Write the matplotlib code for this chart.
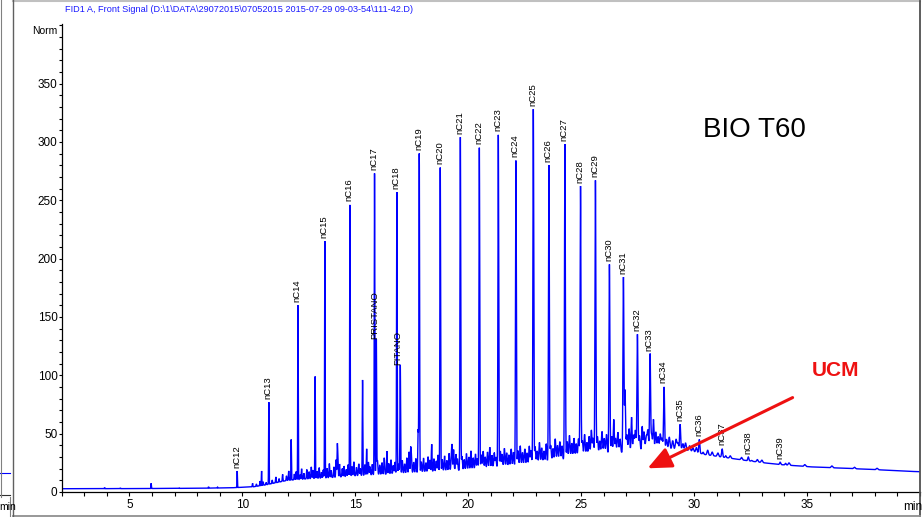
import numpy as np
import matplotlib
matplotlib.use('Agg')
import matplotlib.pyplot as plt
from matplotlib.lines import Line2D
from matplotlib.ticker import MultipleLocator

NARROW = ['Liberation Sans Narrow', 'Liberation Sans', 'DejaVu Sans']

# ---------------- data ----------------
alkane_labels = ['nC12', 'nC13', 'nC14', 'nC15', 'nC16', 'nC17', 'nC18', 'nC19', 'nC20',
                 'nC21', 'nC22', 'nC23', 'nC24', 'nC25', 'nC26', 'nC27', 'nC28', 'nC29',
                 'nC30', 'nC31', 'nC32', 'nC33', 'nC34', 'nC35', 'nC36', 'nC37', 'nC38', 'nC39']
alkane_times = [9.77, 11.17, 12.46, 13.65, 14.76, 15.85, 16.84, 17.83, 18.76,
                19.65, 20.49, 21.33, 22.11, 22.88, 23.57, 24.28, 24.97, 25.63,
                26.25, 26.87, 27.49, 28.05, 28.67, 29.38, 30.23, 31.24, 32.40, 33.81]
alkane_heights = [18, 77, 160, 215, 246, 273, 257, 290, 278,
                  304, 295, 306, 284, 328, 280, 298, 262, 267,
                  195, 184, 135, 118, 90, 58, 45, 37, 30, 25.5]

iso_labels = ['PRISTANO', 'FITANO']
iso_times = [15.93, 16.99]
iso_heights = [131, 109]

other_times = [3.9, 4.6, 5.96, 7.2, 8.5, 8.9, 10.85, 12.16, 13.22, 14.2, 15.32, 15.5,
               16.4, 17.45, 17.78, 18.38, 19.28, 26.44, 26.94, 27.23, 27.7, 28.2,
               30.4, 31.4, 32.55, 34.05]
other_heights = [3.8, 3.5, 7.5, 3.5, 4.5, 4.2, 18, 45, 99, 32, 96, 37,
                 35, 34, 53, 41, 37, 62, 87, 64, 56, 62,
                 34, 31, 27, 24.5]

# unresolved complex mixture (lower envelope of the trace)
ucm_times = [2, 5, 8, 9.5, 10.5, 11, 11.5, 12, 13, 14, 15, 16, 17, 18, 19, 20, 21, 22,
             23, 24, 25, 26, 27, 28, 28.8, 29.3, 29.8, 30.5, 31.4, 32.3, 33.1, 33.8,
             35.2, 36.7, 38.2, 39.5, 40]
ucm_levels = [2.8, 2.9, 3.2, 3.6, 4.5, 6, 8, 10, 11.5, 12.5, 14, 15, 16, 17, 18, 19, 20.5, 22,
              24, 27, 30, 32, 34, 36, 37, 37, 35.5, 32, 29.5, 27, 25, 23.5,
              21.5, 20.3, 19, 17.7, 17.4]

# small unresolved peaks ("grass") above the envelope
grass_times = [10.45, 10.62, 10.78, 10.92, 11.05, 11.32, 11.48, 11.62, 11.78, 11.95, 12.05,
               12.3, 12.38, 12.55, 12.62, 12.72, 12.85, 12.95, 13.05, 13.12, 13.3, 13.4, 13.5,
               13.58, 13.75, 13.85, 13.93, 14.05, 14.15, 14.22, 14.3, 14.42, 14.5, 14.6, 14.68,
               14.85, 14.93, 15.05, 15.15, 15.22,
               15.42, 15.58, 15.65, 15.75, 15.98, 16.08, 16.18, 16.28, 16.48, 16.58, 16.68,
               16.75, 16.92, 17.08, 17.18, 17.28, 17.38, 17.48, 17.58, 17.68, 17.92, 18.02,
               18.12, 18.22, 18.3, 18.48, 18.58, 18.66,
               18.85, 18.95, 19.05, 19.15, 19.25, 19.35, 19.45, 19.52, 19.72, 19.82, 19.92,
               20.02, 20.12, 20.22, 20.32, 20.4, 20.58, 20.66, 20.75, 20.85, 20.95, 21.05,
               21.15, 21.22, 21.42, 21.5, 21.6, 21.7, 21.8, 21.9, 22.0,
               22.2, 22.3, 22.4, 22.5, 22.6, 22.7, 22.78, 22.96, 23.05, 23.15, 23.25, 23.35,
               23.45, 23.65, 23.75, 23.85, 23.95, 24.05, 24.15, 24.38, 24.48, 24.58, 24.68,
               24.78, 24.88,
               25.05, 25.15, 25.25, 25.35, 25.45, 25.53, 25.72, 25.82, 25.92, 26.02, 26.12,
               26.35, 26.52, 26.62, 26.72, 27.02, 27.12, 27.32, 27.4, 27.58, 27.78, 27.88,
               27.95, 28.12, 28.3, 28.4, 28.5, 28.58, 28.78, 28.9, 29.05, 29.2, 29.28, 29.5,
               29.62, 29.8, 29.95, 30.1, 30.6, 30.8, 31.05, 31.6, 32.1, 32.8, 33.0, 34.2,
               34.9, 36.1, 37.1, 38.1]
grass_heights = [3, 2, 4, 3, 2, 3, 5, 3, 6, 4, 8,
                 5, 7, 4, 9, 5, 8, 6, 10, 7, 6, 9, 5,
                 7, 8, 12, 6, 9, 15, 18, 11, 7, 9, 6, 10,
                 8, 12, 7, 10, 6,
                 9, 11, 7, 9, 12, 8, 10, 14, 9, 12, 7,
                 10, 8, 11, 8, 13, 18, 15, 9, 12, 9, 12,
                 8, 13, 10, 11, 9, 14,
                 10, 13, 9, 15, 11, 18, 14, 10, 12, 9, 14,
                 11, 16, 10, 13, 9, 12, 15, 10, 14, 18, 11,
                 13, 9, 14, 11, 16, 12, 10, 15, 12,
                 13, 17, 11, 14, 10, 16, 12, 15, 11, 18, 13, 10,
                 16, 14, 11, 19, 13, 16, 12, 15, 20, 13, 17,
                 12, 16,
                 14, 19, 12, 17, 22, 15, 16, 12, 20, 14, 17,
                 15, 13, 18, 12, 15, 20, 14, 18, 13, 16, 12,
                 17, 13, 15, 11, 13, 9, 8, 10, 7, 8, 5, 5,
                 6, 4, 3, 4, 4, 3, 3, 2, 2, 2, 2, 2,
                 1.5, 1.5, 1.2, 1.2]

x_major = [5, 10, 15, 20, 25, 30, 35]
y_major = [0, 50, 100, 150, 200, 250, 300, 350]
title_text = r'FID1 A, Front Signal (D:\1\DATA\29072015\07052015 2015-07-29 09-03-54\111-42.D)'

# ---------------- figure ----------------
W, H = 922, 517
fig = plt.figure(figsize=(W / 100, H / 100), dpi=100)
fig.patch.set_facecolor('white')
ax = fig.add_axes([61.7 / W, 25 / H, (920 - 61.7) / W, 468 / H])

t = np.arange(2.0, 40.0005, 0.002)
base = np.interp(t, ucm_times, ucm_levels)
signal = base.copy()


def width(tc):
    return 0.009 + 0.0007 * max(tc - 10.0, 0.0)


for tc, h in zip(alkane_times + iso_times + other_times,
                 alkane_heights + iso_heights + other_heights):
    amp = h - np.interp(tc, ucm_times, ucm_levels)
    signal += amp * np.exp(-0.5 * ((t - tc) / width(tc)) ** 2)

for tc, a in zip(grass_times, grass_heights):
    s = width(tc) * 1.3
    signal += a * np.exp(-0.5 * ((t - tc) / s) ** 2)

ax.plot(t, signal, color='#0000ff', lw=1.0, solid_joinstyle='miter')

ax.set_xlim(2, 40)
ax.set_ylim(0, 401)
for s in ['top', 'right']:
    ax.spines[s].set_visible(False)
for s in ['left', 'bottom']:
    ax.spines[s].set_linewidth(0.9)

ax.set_xticks(x_major)
ax.set_xticklabels([str(v) for v in x_major])
ax.set_yticks(y_major)
ax.set_yticklabels([str(v) for v in y_major])
ax.xaxis.set_minor_locator(MultipleLocator(1))
ax.yaxis.set_minor_locator(MultipleLocator(10))
ax.tick_params(axis='both', which='both', direction='out', width=0.8, color='black')
ax.tick_params(axis='x', which='both', length=3, pad=2)
ax.tick_params(axis='y', which='both', length=2.2, pad=0.8)
for lab in ax.get_xticklabels() + ax.get_yticklabels():
    lab.set_family(NARROW)
    lab.set_fontsize(8.5)

# peak labels
for lbl, tc, h in zip(alkane_labels, alkane_times, alkane_heights):
    ax.annotate(lbl, xy=(tc, h), xytext=(-0.5, 2.5), textcoords='offset points',
                rotation=90, ha='center', va='bottom', fontsize=6.8, family=NARROW)
for lbl, tc, h in zip(iso_labels, iso_times, iso_heights):
    ax.annotate(lbl, xy=(tc, h), xytext=(-1.5, 0), textcoords='offset points',
                rotation=90, ha='center', va='bottom', fontsize=6.8, family=NARROW)

# annotations
ax.text(30.4, 310, 'BIO T60', fontsize=20, family=['Liberation Sans', 'DejaVu Sans'],
        ha='left', va='center', color='black')
ax.text(35.2, 104, 'UCM', fontsize=15, fontweight='bold', color='#ee1111',
        family=['Liberation Sans', 'DejaVu Sans'], ha='left', va='center')
ax.annotate('', xy=(27.94, 20.3), xytext=(34.36, 80.9),
            arrowprops=dict(arrowstyle='-|>,head_length=0.9,head_width=0.4',
                            color='#ee1111', lw=2.2, mutation_scale=16,
                            shrinkA=0, shrinkB=0))

# header texts
fig.text(65 / W, 1 - 9 / H, title_text, color='#1a1aff', fontsize=6.6, family=NARROW,
         ha='left', va='center')
fig.text(57 / W, 1 - 31 / H, 'Norm', fontsize=7.5, family=NARROW, ha='right', va='center')
fig.text(903 / W, 1 - 507 / H, 'min', fontsize=8.5, family=NARROW, ha='left', va='center')
fig.text(-1 / W, 1 - 507 / H, 'min', fontsize=7.5, family=NARROW, ha='left', va='center')


def fline(x0, y0, x1, y1, color, lw):
    fig.add_artist(Line2D([x0 / W, x1 / W], [1 - y0 / H, 1 - y1 / H],
                          transform=fig.transFigure, color=color, lw=lw))


# panel frame and remnants of neighbouring panel
fline(13, 1, 920, 1, '#c0c0c0', 1.5)
fline(919.5, 1, 919.5, 516, '#505050', 1.3)
fline(13, 515.5, 920, 515.5, '#909090', 1.3)
fline(13, 0, 13, 517, '#606060', 1.0)
fline(0, 473, 10, 473, '#0000ff', 0.8)
fline(0, 495, 10, 495, '#303030', 0.8)
fline(0.5, 0, 0.5, 497, '#808080', 0.8)
fline(9.5, 497, 9.5, 517, '#808080', 0.8)

fig.savefig('out.png', dpi=100)
